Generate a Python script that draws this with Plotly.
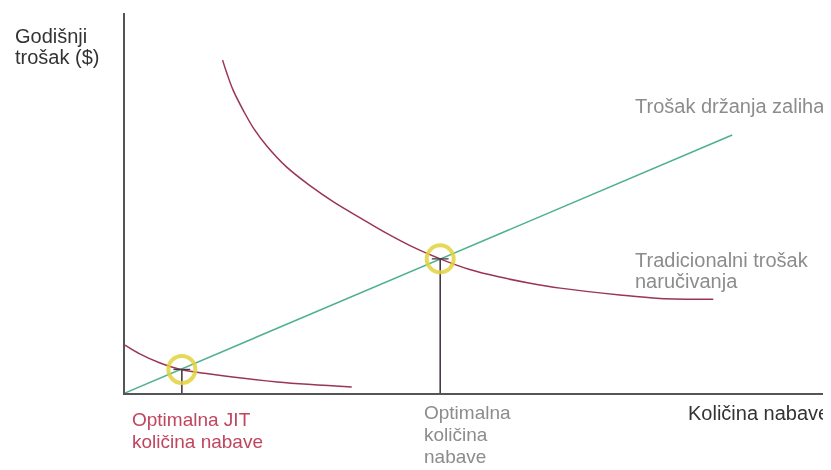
import plotly.graph_objects as go

# Data (arbitrary units: quantity 0-100, annual cost 0-100)
trad_x = [13.9, 14.5, 15.4, 16.9, 18.3, 20.2, 23.0, 26.4, 29.7, 33.5, 37.3, 40.6,
          44.9, 49.1, 53.4, 57.7, 62.0, 70.5, 76.2, 83.8]
trad_y = [87.6, 84.2, 79.7, 74.2, 69.7, 65.0, 59.5, 54.5, 50.3, 46.1, 42.0, 38.8,
          35.3, 32.5, 30.5, 28.9, 27.6, 25.8, 24.9, 24.7]

jit_x = [0.0, 2.1, 5.0, 8.1, 12.1, 21.7, 32.3]
jit_y = [12.6, 10.3, 7.9, 6.1, 5.0, 2.9, 1.6]

hold_x = [0.0, 86.5]
hold_y = [0.0, 67.9]

opt_x = [44.9, 8.1]
opt_y = [35.3, 6.2]

X_RANGE = [0, 100]
Y_RANGE = [0, 100]

RED = "#9a3552"
GREEN = "#4fb08e"
YELLOW = "#e2d33c"
DARK = "#4a3a48"
GRAY = "#8c8c8c"
TXT = "#333333"
JIT_RED = "#c0455e"
FONT = "Liberation Sans, Arial, sans-serif"

fig = go.Figure()

fig.add_trace(go.Scatter(x=hold_x, y=hold_y, mode="lines",
                         line=dict(color=GREEN, width=1.5), hoverinfo="skip"))
fig.add_trace(go.Scatter(x=trad_x, y=trad_y, mode="lines",
                         line=dict(color=RED, width=1.5, shape="spline", smoothing=1.0),
                         hoverinfo="skip"))
fig.add_trace(go.Scatter(x=jit_x, y=jit_y, mode="lines",
                         line=dict(color=RED, width=1.5, shape="spline", smoothing=1.0),
                         hoverinfo="skip"))
for xo, yo in zip(opt_x, opt_y):
    fig.add_trace(go.Scatter(x=[xo, xo], y=[0, yo], mode="lines",
                             line=dict(color=DARK, width=1.6), hoverinfo="skip"))
# small horizontal tick at the top of each drop line
fig.add_trace(go.Scatter(x=opt_x, y=opt_y, mode="markers",
                         marker=dict(symbol="line-ew", size=12, color=DARK,
                                     line=dict(width=1.3, color=DARK)),
                         hoverinfo="skip"))
fig.add_trace(go.Scatter(x=opt_x, y=opt_y, mode="markers",
                         marker=dict(symbol="circle-open", size=27, color=YELLOW,
                                     line=dict(width=4, color=YELLOW)),
                         opacity=0.85, hoverinfo="skip"))

# page has an 8px body margin; figure drawn at (8, 8)
OFF = 8
W, H = 831 - OFF, 470 - OFF
# plot area in page pixels: x 125..827, y 13..393
L, R, T, B = 125 - OFF, W - (827 - OFF), 13 - OFF, H - (393 - OFF)
pw, ph = W - L - R, H - T - B


def px2paper(px, py):
    px -= OFF
    py -= OFF
    return (px - L) / pw, (H - B - py) / ph


def label(text, px, py, color, size, anchor="left"):
    x, y = px2paper(px, py)
    fig.add_annotation(x=x, y=y, xref="paper", yref="paper", text=text,
                       showarrow=False, xanchor=anchor, yanchor="middle",
                       font=dict(family=FONT, size=size, color=color))


label("Godišnji", 13, 36, TXT, 20)
label("trošak ($)", 13, 57, TXT, 20)
label("Trošak držanja zaliha", 633, 106, GRAY, 20)
label("Tradicionalni trošak", 633, 260, GRAY, 20)
label("naručivanja", 633, 281, GRAY, 20)
label("Optimalna JIT", 130, 420, JIT_RED, 19)
label("količina nabave", 130, 441, JIT_RED, 19)
label("Optimalna", 422, 412, GRAY, 19)
label("količina", 422, 434, GRAY, 19)
label("nabave", 422, 456, GRAY, 19)
label("Količina nabave", 831, 413, TXT, 20, anchor="right")

fig.update_layout(
    width=W, height=H,
    margin=dict(l=L, r=R, t=T, b=B),
    paper_bgcolor="white", plot_bgcolor="white",
    showlegend=False,
    xaxis=dict(range=X_RANGE, showgrid=False, zeroline=False, showticklabels=False,
               ticks="", showline=True, linecolor="#555555", linewidth=2, fixedrange=True),
    yaxis=dict(range=Y_RANGE, showgrid=False, zeroline=False, showticklabels=False,
               ticks="", showline=True, linecolor="#555555", linewidth=2, fixedrange=True),
)

fig.write_html("out.html", config={"displayModeBar": False})
